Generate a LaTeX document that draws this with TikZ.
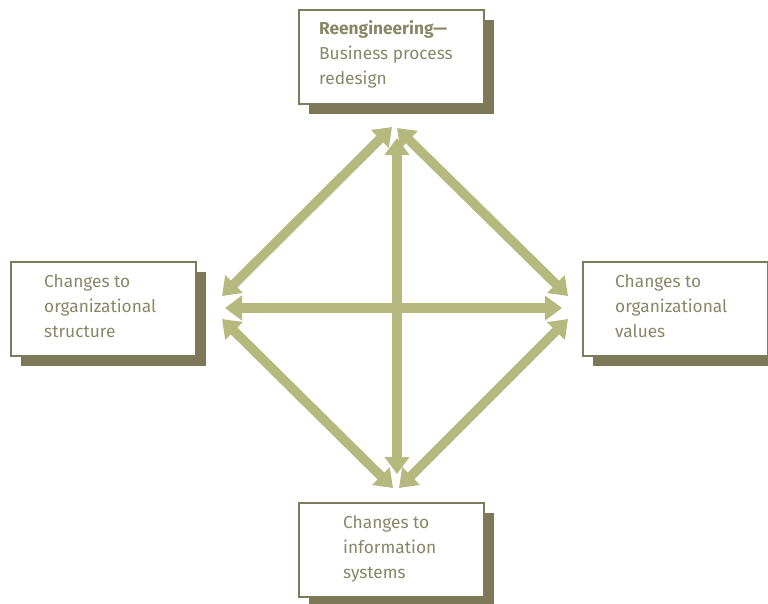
\documentclass[tikz,border=0pt]{standalone}
\usepackage{fontspec}
\setmainfont{Fira Sans}
\usetikzlibrary{arrows.meta,shadows}
\definecolor{boxc}{HTML}{7E7A5A}
\definecolor{shadc}{HTML}{7D7958}
\definecolor{txtc}{HTML}{8A8668}
\definecolor{arrc}{HTML}{B5B97D}
\tikzset{
  box/.style={draw=boxc, line width=2pt, fill=white, minimum width=185pt, minimum height=94pt, inner sep=0pt,
    drop shadow={shadow xshift=10pt, shadow yshift=-10pt, fill=shadc, opacity=1}},
  lbl/.style={anchor=base west, inner sep=0pt, align=left, text=txtc, font=\fontsize{17.3pt}{25pt}\selectfont},
  conn/.style={draw=arrc, line width=9.5pt, {Triangle[length=17pt,width=24pt]}-{Triangle[length=17pt,width=24pt]}}
}
\begin{document}
\begin{tikzpicture}[x=1pt,y=-1pt]
\useasboundingbox (0,0) rectangle (768,603);
% boxes
\node[box] (top) at (391.5,57) {};
\node[box] (left) at (103.5,309) {};
\node[box] (right) at (675.5,309) {};
\node[box] (bot) at (391.5,550) {};
% labels (anchored at the baseline of the last line)
\node[lbl] (toptxt) at (319,84) {\textbf{Reengineering—}\\Business process\\redesign};
\node[lbl] (lefttxt) at (44,337) {Changes to\\organizational\\structure};
\node[lbl] (righttxt) at (615,337) {Changes to\\organizational\\values};
\node[lbl] (bottxt) at (343,578) {Changes to\\information\\systems};
% arrow end points
\coordinate (tA) at (392,127);
\coordinate (tB) at (397,128);
\coordinate (tC) at (397,138);
\coordinate (lA) at (222,296);
\coordinate (lB) at (225,308);
\coordinate (lC) at (222,319);
\coordinate (rA) at (568,296);
\coordinate (rB) at (562,308);
\coordinate (rC) at (568,319);
\coordinate (bA) at (393,488);
\coordinate (bB) at (397,474);
\coordinate (bC) at (399,488);
% connectors
\draw[conn] (tA) -- (lA);
\draw[conn] (tB) -- (rA);
\draw[conn] (lC) -- (bA);
\draw[conn] (rC) -- (bC);
\draw[conn] (lB) -- (rB);
\draw[conn] (tC) -- (bB);
\end{tikzpicture}
\end{document}
